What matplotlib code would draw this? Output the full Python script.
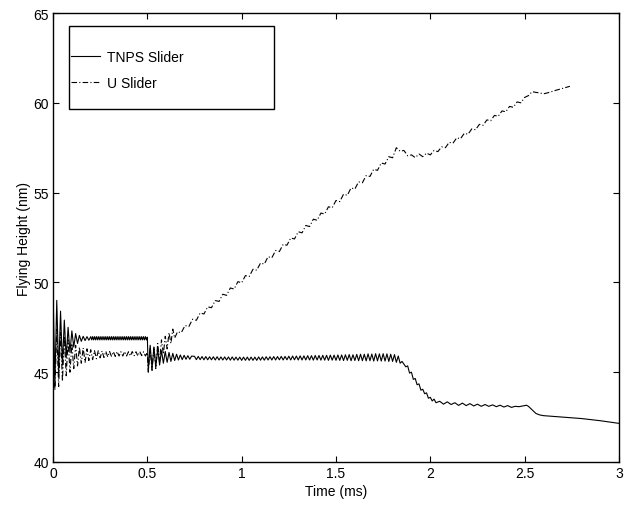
import matplotlib
matplotlib.use('Agg')
import matplotlib.pyplot as plt
from matplotlib.patches import Rectangle

plt.rcParams['font.family'] = ['Liberation Sans', 'DejaVu Sans']
plt.rcParams['font.size'] = 10

# TNPS slider: time (ms) and flying height (nm)
tnps_t = [0.00, 0.01, 0.02, 0.03, 0.04, 0.05, 0.06, 0.07, 0.08, 0.09,
          0.10, 0.11, 0.12, 0.13, 0.14, 0.15, 0.16, 0.17, 0.18, 0.19,
          0.200, 0.205, 0.210, 0.215, 0.220, 0.225, 0.230, 0.235, 0.240, 0.245,
          0.250, 0.255, 0.260, 0.265, 0.270, 0.275, 0.280, 0.285, 0.290, 0.295,
          0.300, 0.305, 0.310, 0.315, 0.320, 0.325, 0.330, 0.335, 0.340, 0.345,
          0.350, 0.355, 0.360, 0.365, 0.370, 0.375, 0.380, 0.385, 0.390, 0.395,
          0.400, 0.405, 0.410, 0.415, 0.420, 0.425, 0.430, 0.435, 0.440, 0.445,
          0.450, 0.455, 0.460, 0.465, 0.470, 0.475, 0.480, 0.485, 0.490, 0.495,
          0.500,
          0.505, 0.515, 0.525, 0.535, 0.545, 0.555, 0.565, 0.575, 0.585, 0.595,
          0.605, 0.615, 0.625, 0.635, 0.645, 0.655, 0.665, 0.675, 0.685, 0.695,
          0.705, 0.715, 0.725, 0.735,
          0.75, 0.76, 0.77, 0.78, 0.79, 0.80, 0.81, 0.82, 0.83, 0.84,
          0.85, 0.86, 0.87, 0.88, 0.89, 0.90, 0.91, 0.92, 0.93, 0.94,
          0.95, 0.96, 0.97, 0.98, 0.99, 1.00, 1.01, 1.02, 1.03, 1.04,
          1.05, 1.06, 1.07, 1.08, 1.09, 1.10, 1.11, 1.12, 1.13, 1.14,
          1.15, 1.16, 1.17, 1.18, 1.19, 1.20, 1.21, 1.22, 1.23, 1.24,
          1.25, 1.26, 1.27, 1.28, 1.29, 1.30, 1.31, 1.32, 1.33, 1.34,
          1.35, 1.36, 1.37, 1.38, 1.39, 1.40, 1.41, 1.42, 1.43, 1.44,
          1.45, 1.46, 1.47, 1.48, 1.49, 1.50, 1.51, 1.52, 1.53, 1.54,
          1.55, 1.56, 1.57, 1.58, 1.59, 1.60, 1.61, 1.62, 1.63, 1.64,
          1.65, 1.66, 1.67, 1.68, 1.69, 1.70, 1.71, 1.72, 1.73, 1.74,
          1.75, 1.76, 1.77, 1.78, 1.79, 1.80, 1.81, 1.82, 1.83, 1.84,
          1.85,
          1.87, 1.88, 1.89, 1.90, 1.91, 1.92, 1.93, 1.94, 1.95, 1.96,
          1.97, 1.98, 1.99, 2.00, 2.01, 2.02, 2.03,
          2.05, 2.07, 2.09, 2.11, 2.13, 2.15, 2.17, 2.19, 2.21, 2.23,
          2.25, 2.27, 2.29, 2.31, 2.33, 2.35, 2.37, 2.39, 2.41, 2.43,
          2.45, 2.47, 2.49, 2.51,
          2.52, 2.54, 2.56, 2.58, 2.60, 2.70, 2.80, 2.90, 3.00]
tnps_h = [49.6, 44.4, 49.0, 44.9, 48.4, 45.4, 47.9, 45.8, 47.5, 46.1,
          47.3, 46.4, 47.15, 46.6, 47.05, 46.72, 47.0, 46.76, 46.98, 46.78,
          46.98, 46.8, 46.98, 46.8, 46.98, 46.8, 46.98, 46.8, 46.98, 46.8,
          46.98, 46.8, 46.98, 46.8, 46.98, 46.8, 46.98, 46.8, 46.98, 46.8,
          46.98, 46.8, 46.98, 46.8, 46.98, 46.8, 46.98, 46.8, 46.98, 46.8,
          46.98, 46.8, 46.98, 46.8, 46.98, 46.8, 46.98, 46.8, 46.98, 46.8,
          46.98, 46.8, 46.98, 46.8, 46.98, 46.8, 46.98, 46.8, 46.98, 46.8,
          46.98, 46.8, 46.98, 46.8, 46.98, 46.8, 46.98, 46.8, 46.98, 46.8,
          46.95,
          45.1, 46.5, 45.2, 46.4, 45.3, 46.3, 45.4, 46.2, 45.5, 46.15,
          45.55, 46.1, 45.6, 46.05, 45.65, 46.0, 45.68, 45.96, 45.7, 45.94,
          45.72, 45.92, 45.72, 45.9,
          45.88, 45.7, 45.88, 45.7, 45.87, 45.69, 45.87, 45.69, 45.86, 45.69,
          45.86, 45.68, 45.86, 45.68, 45.85, 45.68, 45.85, 45.68, 45.85, 45.67,
          45.85, 45.67, 45.84, 45.67, 45.84, 45.66, 45.84, 45.66, 45.84, 45.66,
          45.84, 45.66, 45.84, 45.66, 45.85, 45.67, 45.85, 45.67, 45.86, 45.68,
          45.86, 45.68, 45.87, 45.68, 45.87, 45.69, 45.88, 45.68, 45.88, 45.69,
          45.89, 45.68, 45.9, 45.69, 45.9, 45.68, 45.91, 45.68, 45.91, 45.68,
          45.92, 45.68, 45.92, 45.67, 45.93, 45.68, 45.93, 45.67, 45.94, 45.67,
          45.94, 45.66, 45.95, 45.67, 45.95, 45.66, 45.96, 45.66, 45.96, 45.65,
          45.97, 45.66, 45.98, 45.64, 45.97, 45.65, 45.99, 45.64, 46.0, 45.64,
          46.0, 45.63, 46.02, 45.64, 46.01, 45.62, 46.03, 45.63, 46.02, 45.62,
          46.03, 45.62, 46.02, 45.6, 46.0, 45.6, 45.98, 45.55, 45.9, 45.5,
          45.6,
          45.3, 45.35, 44.95, 45.0, 44.6, 44.65, 44.3, 44.35, 44.0, 44.05,
          43.8, 43.85, 43.55, 43.6, 43.4, 43.5, 43.3,
          43.38, 43.22, 43.35, 43.2, 43.3, 43.15, 43.28, 43.14, 43.25, 43.12,
          43.22, 43.1, 43.2, 43.1, 43.18, 43.08, 43.16, 43.06, 43.14, 43.04,
          43.1, 43.08, 43.12, 43.16,
          43.1, 42.9, 42.7, 42.62, 42.58, 42.5, 42.42, 42.3, 42.15]

# U slider
u_t = [0.00, 0.01, 0.02, 0.03, 0.04, 0.05, 0.06, 0.07, 0.08, 0.09,
       0.10, 0.11, 0.12, 0.13, 0.14, 0.15, 0.16, 0.17, 0.18, 0.19,
       0.20, 0.21, 0.22, 0.23, 0.24, 0.25, 0.26, 0.27, 0.28, 0.29,
       0.30, 0.31, 0.32, 0.33, 0.34, 0.35, 0.36, 0.37, 0.38, 0.39,
       0.40, 0.41, 0.42, 0.43, 0.44, 0.45, 0.46, 0.47, 0.48, 0.49,
       0.50,
       0.505, 0.515, 0.525, 0.535, 0.545, 0.555, 0.565, 0.575, 0.585, 0.595,
       0.605, 0.615, 0.625, 0.635, 0.645,
       0.66, 0.68, 0.70, 0.72, 0.74, 0.76, 0.78, 0.80, 0.82, 0.84,
       0.86, 0.88, 0.90, 0.92, 0.94, 0.96, 0.98, 1.00, 1.02, 1.04,
       1.06, 1.08, 1.10, 1.12, 1.14, 1.16, 1.18, 1.20, 1.22, 1.24,
       1.26, 1.28, 1.30, 1.32, 1.34, 1.36, 1.38, 1.40, 1.42, 1.44,
       1.46, 1.48, 1.50, 1.52, 1.54, 1.56, 1.58, 1.60, 1.62, 1.64,
       1.66, 1.68, 1.70, 1.72, 1.74, 1.76, 1.78, 1.80,
       1.82, 1.84, 1.86, 1.88, 1.90, 1.92, 1.94, 1.96, 1.98, 2.00,
       2.02, 2.04, 2.06, 2.08, 2.10, 2.12, 2.14, 2.16, 2.18, 2.20,
       2.22, 2.24, 2.26, 2.28, 2.30, 2.32, 2.34, 2.36, 2.38, 2.40,
       2.42, 2.44, 2.46, 2.48, 2.50, 2.52, 2.54, 2.56, 2.58, 2.60,
       2.62, 2.66, 2.70, 2.74]
u_h = [47.5, 44.0, 47.4, 44.2, 47.2, 44.5, 47.0, 44.8, 46.8, 45.0,
       46.6, 45.2, 46.5, 45.35, 46.4, 45.5, 46.35, 45.55, 46.3, 45.65,
       46.25, 45.7, 46.2, 45.75, 46.2, 45.8, 46.18, 45.82, 46.16, 45.85,
       46.15, 45.88, 46.14, 45.88, 46.15, 45.9, 46.14, 45.9, 46.15, 45.9,
       46.14, 45.9, 46.15, 45.92, 46.14, 45.9, 46.15, 45.92, 46.14, 45.9,
       46.1,
       45.0, 46.3, 45.1, 46.4, 45.2, 46.6, 45.6, 46.8, 46.0, 47.0,
       46.3, 47.2, 46.6, 47.4, 46.9,
       47.25, 47.2, 47.6, 47.54, 47.95, 47.89, 48.3, 48.24, 48.64, 48.59,
       48.99, 48.94, 49.34, 49.28, 49.69, 49.63, 50.04, 49.98, 50.38, 50.33,
       50.73, 50.68, 51.08, 51.02, 51.43, 51.37, 51.78, 51.72, 52.12, 52.07,
       52.47, 52.42, 52.82, 52.76, 53.17, 53.11, 53.52, 53.46, 53.86, 53.81,
       54.21, 54.16, 54.56, 54.5, 54.91, 54.85, 55.26, 55.2, 55.6, 55.55,
       55.95, 55.9, 56.3, 56.24, 56.65, 56.59, 57.0, 56.94,
       57.5, 57.3, 57.35, 57.05, 57.1, 56.95, 57.15, 57.0, 57.2, 57.1,
       57.35, 57.28, 57.55, 57.5, 57.8, 57.75, 58.05, 58.0, 58.3, 58.25,
       58.55, 58.5, 58.8, 58.75, 59.05, 59.0, 59.3, 59.25, 59.55, 59.5,
       59.8, 59.75, 60.05, 60.0, 60.3, 60.4, 60.62, 60.58, 60.55, 60.5,
       60.55, 60.68, 60.8, 60.92]

fig = plt.figure(figsize=(6.37, 5.06), dpi=100)
ax = fig.add_axes([0.0832, 0.085, 0.8885, 0.8873])

ax.plot(tnps_t, tnps_h, color='k', lw=0.8, label='TNPS Slider')
ax.plot(u_t, u_h, color='k', lw=0.8, ls=(0, (5, 2, 1, 2)), label='U Slider')

ax.set_xlim(0, 3)
ax.set_ylim(40, 65)
ax.set_xticks([0, 0.5, 1, 1.5, 2, 2.5, 3])
ax.set_xticklabels(['0', '0.5', '1', '1.5', '2', '2.5', '3'])
ax.set_yticks([40, 45, 50, 55, 60, 65])
ax.tick_params(direction='in', length=4, width=0.8, top=True, right=True,
               labelsize=10, pad=3)
for s in ax.spines.values():
    s.set_linewidth(1.0)

ax.set_xlabel('Time (ms)', labelpad=3)
ax.set_ylabel('Flying Height (nm)', labelpad=2)

# legend box like the original (tall frame, entries inside)
ax.add_patch(Rectangle((0.028, 0.786), 0.362, 0.185, transform=ax.transAxes,
                       facecolor='white', edgecolor='k', lw=1.0, zorder=4))
leg = ax.legend(loc='upper left', bbox_to_anchor=(0.032, 0.918),
                frameon=False, borderpad=0, borderaxespad=0,
                handlelength=2.1, handletextpad=0.45, labelspacing=0.9,
                fontsize=10)
leg.set_zorder(5)

fig.savefig('out.png', dpi=100)
